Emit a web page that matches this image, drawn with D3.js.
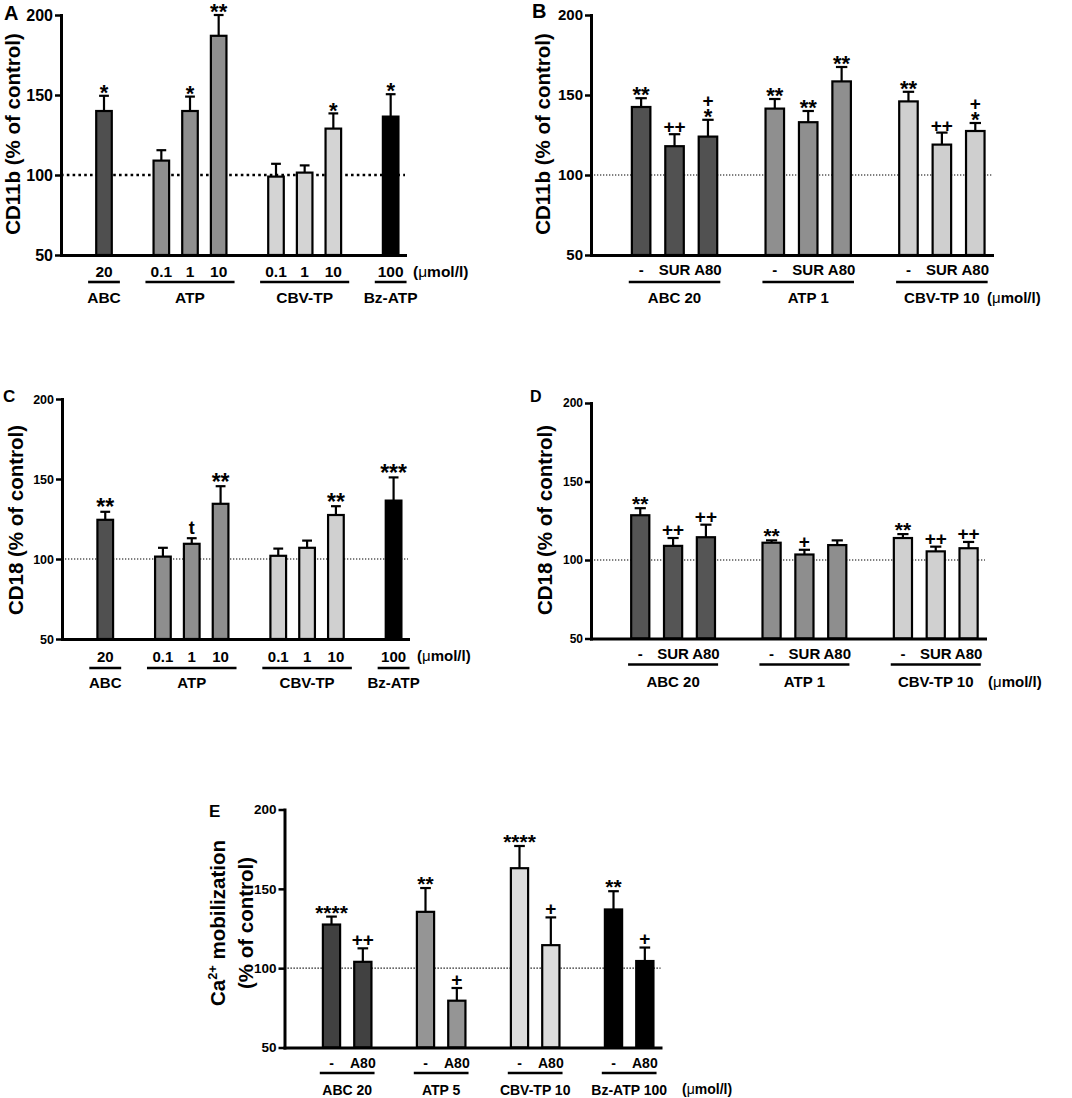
<!DOCTYPE html>
<html>
<head>
<meta charset="utf-8">
<script src="https://cdn.jsdelivr.net/npm/d3@7"></script>
<style>
  body { margin: 0; background: #fff; }
  text { font-family: "Liberation Sans", Arial, sans-serif; font-weight: bold; }
</style>
</head>
<body>
<script>
// ---- data ----
// A: CD11b, single agonists
var doseA = ['20', '0.1', '1', '10', '0.1', '1', '10', '100'];
var groupsA = ['ABC', 'ATP', 'CBV-TP', 'Bz-ATP'];
var groupOfA = [0, 1, 1, 1, 2, 2, 2, 3];
var meanA = [140, 109, 140, 187, 99, 101.5, 129, 136.5];
var semA = [9.5, 6.5, 9, 13, 8, 4.5, 9.5, 14];
var marksA = [['*'], [], ['*'], ['**'], [], [], ['*'], ['*']];

// B: CD11b, with antagonists
var doseB = ['-', 'SUR', 'A80', '-', 'SUR', 'A80', '-', 'SUR', 'A80'];
var groupsB = ['ABC 20', 'ATP 1', 'CBV-TP 10'];
var groupOfB = [0, 0, 0, 1, 1, 1, 2, 2, 2];
var meanB = [142.5, 118, 124, 141.5, 133, 158.5, 146, 119, 127.5];
var semB = [5.5, 7.5, 10.5, 6, 7, 9, 6, 7.5, 5];
var marksB = [['**'], ['++'], ['+', '*'], ['**'], ['**'], ['**'], ['**'], ['++'], ['+', '*']];

// C: CD18, single agonists
var meanC = [124.5, 101.5, 109.5, 134.5, 102, 107, 127.5, 136.5];
var semC = [5, 5.5, 3.5, 11, 4.5, 4.5, 5.5, 14.5];
var marksC = [['**'], [], ['t'], ['**'], [], [], ['**'], ['***']];

// D: CD18, with antagonists
var meanD = [128.5, 109, 114.5, 111, 103.5, 109.5, 114, 105.5, 107.5];
var semD = [4.5, 5, 8, 1.5, 3, 3, 2.5, 3, 4];
var marksD = [['**'], ['++'], ['++'], ['**'], ['+'], [], ['**'], ['++'], ['++']];

// E: Ca2+ mobilization
var doseE = ['-', 'A80', '-', 'A80', '-', 'A80', '-', 'A80'];
var groupsE = ['ABC 20', 'ATP 5', 'CBV-TP 10', 'Bz-ATP 100'];
var groupOfE = [0, 0, 1, 1, 2, 2, 3, 3];
var meanE = [127.5, 104, 135.5, 79.5, 163, 114.5, 137, 104.5];
var semE = [5, 8.5, 15, 8, 14, 17.5, 11.5, 8.5];
var marksE = [['****'], ['++'], ['**'], ['+'], ['****'], ['+'], ['**'], ['+']];

var yTicks = [50, 100, 150, 200];

var svg = d3.select('body')
            .append('svg')
            .attr('width', 1072)
            .attr('height', 1098);

function drawPanel(cfg) {
  var g = svg.append('g');
  var n = cfg.means.length;
  var nSlots = n + cfg.groups.length;
  // one empty slot before each group
  var slotOf = cfg.groupOf.map(function(gi, i) { return i + gi + 1; });

  var x = d3.scaleBand().domain(d3.range(nSlots)).range([cfg.x0, cfg.x1])
            .paddingInner(0.38).paddingOuter(0.19);
  var y = d3.scaleLinear().domain([50, 200]).range([cfg.yBot, cfg.yTop]);
  var bw = x.bandwidth();
  var cx = function(i) { return x(slotOf[i]) + bw / 2; };

  // reference line at 100 %
  g.append('line')
    .attr('x1', cfg.x0).attr('x2', cfg.x1)
    .attr('y1', y(100)).attr('y2', y(100))
    .attr('stroke', '#000').attr('stroke-width', cfg.dotW)
    .attr('stroke-dasharray', cfg.dotDash);

  // error bars (upper only)
  var cap = bw * 0.55;
  g.selectAll('line.err').data(cfg.means).join('line').attr('class', 'err')
    .attr('x1', function(d, i) { return cx(i); }).attr('x2', function(d, i) { return cx(i); })
    .attr('y1', function(d) { return y(d); })
    .attr('y2', function(d, i) { return y(d + cfg.sems[i]); })
    .attr('stroke', '#000').attr('stroke-width', 2.2);
  g.selectAll('line.cap').data(cfg.means).join('line').attr('class', 'cap')
    .attr('x1', function(d, i) { return cx(i) - cap / 2; })
    .attr('x2', function(d, i) { return cx(i) + cap / 2; })
    .attr('y1', function(d, i) { return y(d + cfg.sems[i]); })
    .attr('y2', function(d, i) { return y(d + cfg.sems[i]); })
    .attr('stroke', '#000').attr('stroke-width', 2.2);

  // bars
  g.selectAll('rect.bar').data(cfg.means).join('rect').attr('class', 'bar')
    .attr('x', function(d, i) { return x(slotOf[i]) + 1.1; })
    .attr('width', bw - 2.2)
    .attr('y', function(d) { return y(d); })
    .attr('height', function(d) { return y(50) - y(d); })
    .attr('fill', function(d, i) { return cfg.colors[cfg.groupOf[i]]; })
    .attr('stroke', '#000').attr('stroke-width', 2.2);

  // axes
  var ya = g.append('g').attr('transform', 'translate(' + cfg.x0 + ',0)')
    .call(d3.axisLeft(y).tickValues(yTicks).tickSize(6).tickSizeOuter(0).tickPadding(2));
  ya.select('.domain').attr('stroke-width', 3).attr('stroke-linecap', 'square');
  ya.selectAll('.tick line').attr('stroke-width', 2.5);
  ya.selectAll('.tick text').attr('font-size', cfg.tickFs).attr('fill', '#000')
    .attr('font-family', '"Liberation Sans", Arial, sans-serif');

  var xa = g.append('g').attr('transform', 'translate(0,' + cfg.yBot + ')')
    .call(d3.axisBottom(x).tickValues([]).tickSizeOuter(0));
  xa.select('.domain').attr('stroke-width', 3).attr('stroke-linecap', 'square');

  // dose labels under each bar
  g.selectAll('text.dose').data(cfg.dose).join('text').attr('class', 'dose')
    .attr('x', function(d, i) { return cx(i); })
    .attr('y', cfg.yBot + cfg.row1Dy)
    .attr('text-anchor', 'middle').attr('font-size', cfg.labFs)
    .text(function(d) { return d; });

  // group lines + names
  cfg.groups.forEach(function(name, gi) {
    var idx = d3.range(n).filter(function(i) { return cfg.groupOf[i] === gi; });
    var left = x(slotOf[idx[0]]) - cfg.linePad;
    var right = x(slotOf[idx[idx.length - 1]]) + bw + cfg.linePad;
    g.append('line').attr('x1', left).attr('x2', right)
      .attr('y1', cfg.yBot + cfg.lineDy).attr('y2', cfg.yBot + cfg.lineDy)
      .attr('stroke', '#000').attr('stroke-width', 2.6);
    g.append('text').attr('x', (left + right) / 2).attr('y', cfg.yBot + cfg.groupDy)
      .attr('text-anchor', 'middle').attr('font-size', cfg.labFs).text(name);
  });

  // unit
  var u = g.append('text').attr('x', cfg.unitX).attr('y', cfg.unitY).attr('font-size', cfg.labFs);
  u.append('tspan').text('(');
  u.append('tspan').attr('font-weight', 'normal').text('\u03bc');
  u.append('tspan').text('mol/l)');

  // significance marks, stacked upward from the error cap (one text per bar)
  cfg.marks.forEach(function(lines, i) {
    if (!lines.length) return;
    var bottom = y(cfg.means[i] + cfg.sems[i]) - cfg.markGap;
    var t = g.append('text').attr('text-anchor', 'middle');
    var parts = [];
    lines.slice().reverse().forEach(function(s) {
      var fs, inkB, inkT;
      if (s.indexOf('*') >= 0) { fs = cfg.starFs; inkB = 0.33; inkT = 0.73; }
      else if (s.indexOf('+') >= 0) { fs = cfg.plusFs; inkB = 0.10; inkT = 0.60; }
      else { fs = 18; inkB = 0; inkT = 0.68; }
      var base = bottom + inkB * fs;
      parts.unshift({ s: s, fs: fs, y: base });
      bottom = base - inkT * fs - 3;
    });
    parts.forEach(function(p) {
      t.append('tspan').attr('x', cx(i)).attr('y', p.y).attr('font-size', p.fs).text(p.s);
    });
  });

  // y title
  var yc = cfg.ylabY;
  cfg.ylab.forEach(function(line, k) {
    var t = g.append('text')
      .attr('transform', 'translate(' + cfg.ylabX[k] + ',' + yc + ') rotate(-90)')
      .attr('text-anchor', 'middle').attr('font-size', cfg.ylabFs);
    if (line === 'Ca2+ mobilization') {
      t.append('tspan').text('Ca');
      t.append('tspan').attr('font-size', cfg.ylabFs * 0.62).attr('dy', -8).text('2+');
      t.append('tspan').attr('dy', 8).text(' mobilization');
    } else {
      t.text(line);
    }
  });

  // panel letter
  g.append('text').attr('x', cfg.letterX).attr('y', cfg.letterY)
    .attr('font-size', cfg.letterFs).text(cfg.letter);
}

drawPanel({
  letter: 'A', letterX: 4, letterY: 20, letterFs: 20,
  x0: 61, x1: 405, yTop: 15, yBot: 255,
  means: meanA, sems: semA, marks: marksA, dose: doseA, groups: groupsA, groupOf: groupOfA,
  colors: ['#4f4f4f', '#8f8f8f', '#d4d4d4', '#000'],
  dotW: 2.6, dotDash: '2.6,3.2', tickFs: 16, labFs: 15.5,
  row1Dy: 22, lineDy: 27, groupDy: 48, linePad: 7,
  unitX: 413, unitY: 277,
  starFs: 22, plusFs: 19, markGap: 3,
  ylab: ['CD11b (% of control)'], ylabX: [20], ylabY: 134, ylabFs: 20.5
});

drawPanel({
  letter: 'B', letterX: 532, letterY: 18, letterFs: 20,
  x0: 591, x1: 992, yTop: 15, yBot: 255,
  means: meanB, sems: semB, marks: marksB, dose: doseB, groups: groupsB, groupOf: groupOfB,
  colors: ['#515151', '#8f8f8f', '#cfcfcf'],
  dotW: 1.1, dotDash: '1.3,1.7', tickFs: 15, labFs: 15,
  row1Dy: 20, lineDy: 27, groupDy: 48, linePad: 2,
  unitX: 987, unitY: 303,
  starFs: 22, plusFs: 19, markGap: 3,
  ylab: ['CD11b (% of control)'], ylabX: [550], ylabY: 134, ylabFs: 20.5
});

drawPanel({
  letter: 'C', letterX: 3, letterY: 402, letterFs: 17,
  x0: 62, x1: 408, yTop: 399, yBot: 639,
  means: meanC, sems: semC, marks: marksC, dose: doseA, groups: groupsA, groupOf: groupOfA,
  colors: ['#505050', '#8e8e8e', '#d0d0d0', '#000'],
  dotW: 1.1, dotDash: '1.3,1.7', tickFs: 12.5, labFs: 15,
  row1Dy: 22.5, lineDy: 29, groupDy: 49, linePad: 7,
  unitX: 417, unitY: 661,
  starFs: 23, plusFs: 19, markGap: 4,
  ylab: ['CD18 (% of control)'], ylabX: [23], ylabY: 520, ylabFs: 20.5
});

drawPanel({
  letter: 'D', letterX: 530, letterY: 402, letterFs: 16,
  x0: 591, x1: 985, yTop: 403, yBot: 638.5,
  means: meanD, sems: semD, marks: marksD, dose: doseB, groups: groupsB, groupOf: groupOfB,
  colors: ['#555555', '#8e8e8e', '#d0d0d0'],
  dotW: 1.1, dotDash: '1.3,1.7', tickFs: 12, labFs: 15,
  row1Dy: 20, lineDy: 26, groupDy: 48, linePad: 2,
  unitX: 988, unitY: 686.5,
  starFs: 21, plusFs: 19, markGap: 4,
  ylab: ['CD18 (% of control)'], ylabX: [552], ylabY: 520, ylabFs: 20.5
});

drawPanel({
  letter: 'E', letterX: 209, letterY: 817, letterFs: 17,
  x0: 284.5, x1: 660.5, yTop: 809.5, yBot: 1047.5,
  means: meanE, sems: semE, marks: marksE, dose: doseE, groups: groupsE, groupOf: groupOfE,
  colors: ['#414141', '#959595', '#dcdcdc', '#000'],
  dotW: 1.1, dotDash: '1.3,1.7', tickFs: 13.5, labFs: 14,
  row1Dy: 20, lineDy: 25.5, groupDy: 47, linePad: 2,
  unitX: 682, unitY: 1094,
  starFs: 21, plusFs: 19, markGap: 4,
  ylab: ['Ca2+ mobilization', '(% of control)'], ylabX: [225, 253], ylabY: 923, ylabFs: 20.5
});
</script>
</body>
</html>
